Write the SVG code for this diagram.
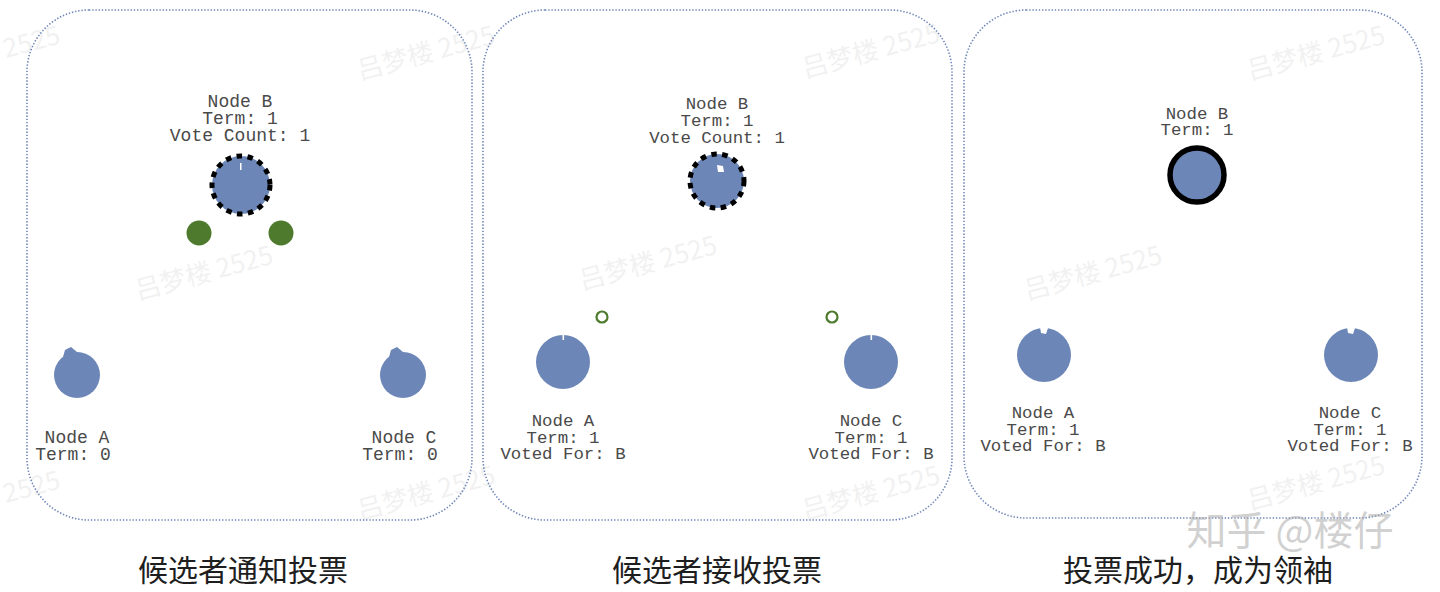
<svg xmlns="http://www.w3.org/2000/svg" width="1440" height="592" viewBox="0 0 1440 592">
<style>
.panel{fill:none;stroke:#6f86b8;stroke-width:1.6;stroke-dasharray:1.4 1.8}
.node{fill:#6b86b7}
.lbl{font-family:"Liberation Mono","DejaVu Sans Mono",monospace;font-size:17.4px;fill:#4a4a4a;text-anchor:middle}
.big{font-size:18px}
.cap{font-family:"Noto Sans CJK SC",sans-serif;font-size:30px;fill:#1e1e1e;text-anchor:middle}
.cand{stroke:#000;stroke-width:5;stroke-dasharray:5.5 5.5}
.wm{font-family:"Noto Sans CJK SC",sans-serif;font-size:26px;fill:#000;opacity:0.05}
.vote{fill:#4d7a2c}
.ring{fill:none;stroke:#4d7a2c;stroke-width:2.2}
.notch{fill:#fff}
</style>
<rect width="1440" height="592" fill="#fff"/>
<g id="watermarks">
<text class="wm" transform="translate(360,80) rotate(-15)">吕梦楼 2525</text>
<text class="wm" transform="translate(138,300) rotate(-15)">吕梦楼 2525</text>
<text class="wm" transform="translate(805,78) rotate(-15)">吕梦楼 2525</text>
<text class="wm" transform="translate(582,290) rotate(-15)">吕梦楼 2525</text>
<text class="wm" transform="translate(1027,300) rotate(-15)">吕梦楼 2525</text>
<text class="wm" transform="translate(1250,80) rotate(-15)">吕梦楼 2525</text>
<text class="wm" transform="translate(360,520) rotate(-15)">吕梦楼 2525</text>
<text class="wm" transform="translate(805,520) rotate(-15)">吕梦楼 2525</text>
<text class="wm" transform="translate(1250,510) rotate(-15)">吕梦楼 2525</text>
<text class="wm" transform="translate(6,58) rotate(-15)">2525</text>
<text class="wm" transform="translate(6,503) rotate(-15)">2525</text>
</g>
<g id="panels">
<rect id="panel1" class="panel" x="27" y="10" width="445" height="510" rx="62"/>
<rect id="panel2" class="panel" x="483" y="10" width="469" height="510" rx="62"/>
<rect id="panel3" class="panel" x="964" y="10" width="458" height="508" rx="62"/>
</g>
<g id="connectors"></g>
<g id="p1-nodeB">
<text class="lbl big" x="240" y="107">Node B<tspan x="240" dy="17">Term: 1</tspan><tspan x="240" dy="17">Vote Count: 1</tspan></text>
<circle class="node cand" cx="241" cy="185" r="29"/>
<rect class="notch" x="240" y="163" width="1.5" height="7"/>
</g>
<g id="p1-vote1"><circle class="vote" cx="199" cy="233" r="12.5"/></g>
<g id="p1-vote2"><circle class="vote" cx="281" cy="233" r="12.5"/></g>
<g id="p1-nodeA">
<circle class="node" cx="77" cy="375" r="23"/>
<path class="node" d="M63,357 L65,350 L71,347 L77,352 Z"/>
<text class="lbl big" x="77" y="443">Node A<tspan x="73" dy="17">Term: 0</tspan></text>
</g>
<g id="p1-nodeC">
<circle class="node" cx="403" cy="375" r="23"/>
<path class="node" d="M389,357 L391,350 L397,347 L403,352 Z"/>
<text class="lbl big" x="404" y="443">Node C<tspan x="400" dy="17">Term: 0</tspan></text>
</g>
<g id="p2-nodeB">
<text class="lbl" x="717" y="109">Node B<tspan x="717" dy="17">Term: 1</tspan><tspan x="717" dy="17">Vote Count: 1</tspan></text>
<circle class="node cand" cx="717" cy="181" r="27"/>
<path class="notch" d="M717,165 L723,166 L724,172 L718,172 Z"/>
</g>
<g id="p2-vote1"><circle class="ring" cx="602" cy="317" r="5.5"/></g>
<g id="p2-vote2"><circle class="ring" cx="832" cy="317" r="5.5"/></g>
<g id="p2-nodeA">
<circle class="node" cx="563" cy="362" r="27"/>
<rect class="notch" x="562.5" y="334" width="1.6" height="6"/>
<text class="lbl" x="563" y="426">Node A<tspan x="563" dy="16.5">Term: 1</tspan><tspan x="563" dy="16.5">Voted For: B</tspan></text>
</g>
<g id="p2-nodeC">
<circle class="node" cx="871" cy="362" r="27"/>
<rect class="notch" x="870.5" y="334" width="1.6" height="6"/>
<text class="lbl" x="871" y="426">Node C<tspan x="871" dy="16.5">Term: 1</tspan><tspan x="871" dy="16.5">Voted For: B</tspan></text>
</g>
<g id="p3-nodeB">
<text class="lbl" x="1197" y="119">Node B<tspan x="1197" dy="16">Term: 1</tspan></text>
<circle class="node" cx="1197" cy="175" r="27" stroke="#000" stroke-width="5.5"/>
</g>
<g id="p3-nodeA">
<circle class="node" cx="1044" cy="355" r="27"/>
<path class="notch" d="M1040,327 L1041,333 L1046,334 L1048,328 Z"/>
<text class="lbl" x="1043" y="418">Node A<tspan x="1043" dy="16.5">Term: 1</tspan><tspan x="1043" dy="16.5">Voted For: B</tspan></text>
</g>
<g id="p3-nodeC">
<circle class="node" cx="1351" cy="355" r="27"/>
<path class="notch" d="M1347,327 L1348,333 L1353,334 L1355,328 Z"/>
<text class="lbl" x="1350" y="418">Node C<tspan x="1350" dy="16.5">Term: 1</tspan><tspan x="1350" dy="16.5">Voted For: B</tspan></text>
</g>
<g id="captions">
<text class="cap" x="243" y="581">候选者通知投票</text>
<text class="cap" x="717" y="581">候选者接收投票</text>
<text class="cap" x="1198" y="581">投票成功，成为领袖</text>
</g>
<text id="zhihu" x="1290" y="545" font-family="'Noto Sans CJK SC',sans-serif" font-size="40" fill="#aaa" fill-opacity="0.55" text-anchor="middle">知乎 @楼仔</text>
</svg>
